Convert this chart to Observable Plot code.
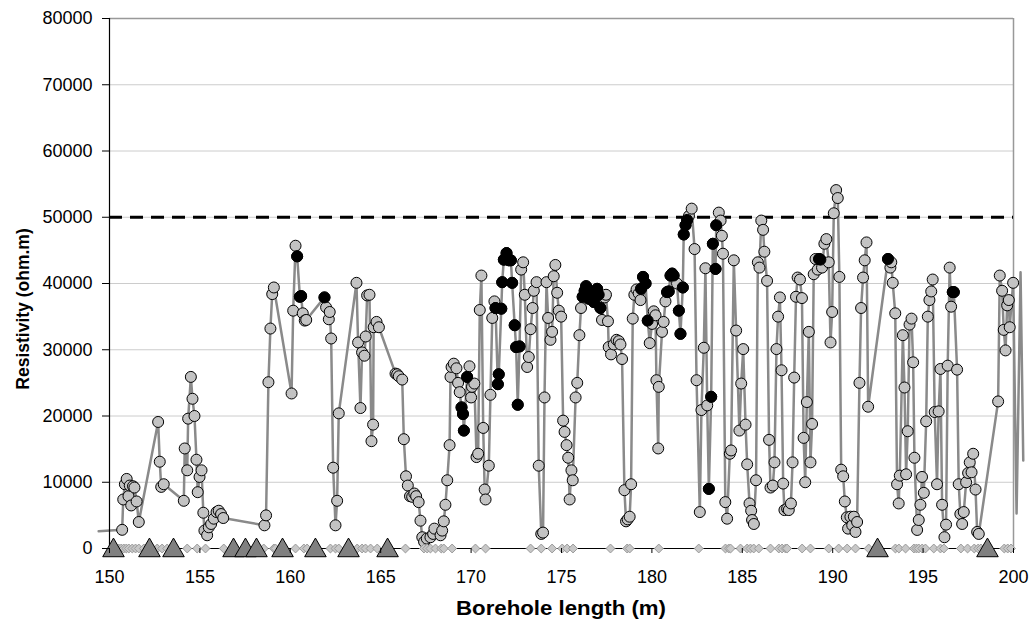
<!DOCTYPE html>
<html><head><meta charset="utf-8">
<script src="https://cdn.jsdelivr.net/npm/d3@7"></script>
<script src="https://cdn.jsdelivr.net/npm/@observablehq/plot@0.6"></script>
<style>body{margin:0;background:#fff;}</style>
</head><body><div id="chart"></div>
<script>
// Borehole length (m) and resistivity (ohm.m) of the measured profile
const depth = [149.40,150.70,150.76,150.85,150.95,151.05,151.12,151.20,151.30,151.38,151.50,151.62,152.69,152.78,152.86,153.00,154.11,154.16,154.30,154.35,154.50,154.59,154.70,154.81,154.88,154.98,155.09,155.19,155.25,155.40,155.49,155.62,155.77,155.92,156.04,156.17,156.29,158.57,158.66,158.79,158.90,159.00,159.09,160.07,160.16,160.29,160.38,160.53,160.60,160.69,160.80,160.88,161.89,161.98,162.13,162.18,162.26,162.37,162.50,162.59,162.68,163.66,163.75,163.88,163.97,164.10,164.17,164.25,164.38,164.49,164.58,164.61,164.77,164.90,165.82,165.91,166.00,166.19,166.28,166.40,166.50,166.62,166.74,166.86,166.96,167.10,167.20,167.30,167.40,167.55,167.75,167.90,167.97,168.31,168.40,168.49,168.58,168.68,168.81,168.86,168.92,169.04,169.19,169.28,169.37,169.47,169.55,169.60,169.78,169.91,170.00,170.05,170.18,170.30,170.39,170.48,170.57,170.67,170.75,170.80,170.98,171.07,171.17,171.29,171.35,171.48,171.53,171.67,171.72,171.81,171.96,172.09,172.20,172.27,172.41,172.49,172.58,172.68,172.77,172.88,172.97,173.10,173.19,173.29,173.40,173.47,173.62,173.74,173.88,173.98,174.06,174.17,174.26,174.39,174.48,174.57,174.66,174.76,174.85,174.98,175.09,175.17,175.28,175.37,175.45,175.55,175.62,175.78,175.87,175.99,176.08,176.17,176.28,176.36,176.51,176.60,176.70,176.79,176.88,176.97,177.06,177.15,177.24,177.39,177.46,177.57,177.61,177.74,177.89,178.04,178.17,178.26,178.35,178.48,178.57,178.66,178.77,178.85,178.94,179.03,179.15,179.27,179.37,179.40,179.51,179.65,179.77,179.88,180.01,180.10,180.20,180.25,180.35,180.38,180.56,180.65,180.75,180.84,180.93,181.03,181.12,181.20,181.39,181.49,181.58,181.71,181.76,181.86,181.95,182.05,182.20,182.36,182.47,182.65,182.74,182.87,182.96,183.06,183.15,183.28,183.37,183.52,183.56,183.70,183.80,183.87,183.93,184.06,184.16,184.31,184.38,184.53,184.66,184.84,184.94,185.05,185.18,185.27,185.40,185.49,185.54,185.64,185.76,185.86,185.95,186.05,186.15,186.22,186.37,186.48,186.56,186.69,186.78,186.89,186.98,187.08,187.17,187.26,187.33,187.48,187.57,187.69,187.78,187.87,187.97,188.06,188.19,188.30,188.39,188.48,188.57,188.68,188.77,188.86,188.95,189.05,189.17,189.25,189.32,189.41,189.54,189.65,189.78,189.88,189.97,190.06,190.19,190.28,190.37,190.47,190.58,190.67,190.78,190.85,190.98,191.08,191.17,191.26,191.35,191.48,191.57,191.68,191.77,191.87,191.96,193.06,193.19,193.24,193.32,193.46,193.56,193.65,193.71,193.88,193.97,194.06,194.15,194.25,194.36,194.45,194.52,194.67,194.76,194.85,194.94,195.04,195.17,195.26,195.35,195.45,195.53,195.64,195.77,195.86,195.96,196.05,196.18,196.27,196.36,196.47,196.55,196.64,196.70,196.88,196.97,197.06,197.16,197.25,197.38,197.49,197.58,197.68,197.77,197.90,197.99,198.08,199.15,199.24,199.37,199.46,199.56,199.65,199.74,199.79,199.98,200.17,200.39,200.54];
const resistivity = [2600,2820,7400,9700,10500,7900,9500,6500,9400,9200,7100,4000,19100,13100,9300,9700,7200,15100,11800,19600,25900,22600,20000,13400,8500,10800,11800,5400,2700,2000,3200,3700,4500,5500,5700,5200,4600,3500,5000,25100,33200,38400,39400,23400,35900,45700,44100,38000,38100,35500,34400,34500,37900,36400,34600,35700,31700,12200,3500,7200,20400,40100,31100,21200,29600,29100,32000,38200,38300,16200,18700,33400,34200,33400,26400,26300,26000,25500,16500,10900,9500,7900,7800,8300,7900,7000,4200,1700,1000,1500,1700,2200,3000,2000,2700,4100,6600,10300,15600,25900,27400,27900,27200,25000,23600,21300,20300,17800,25900,27500,22800,24400,24900,13800,14300,36000,41200,18200,8900,7400,12500,23200,34800,37300,36300,24800,26300,36200,40200,43600,44600,43500,43500,40100,33700,30400,21700,30500,42100,43200,38300,27400,28900,33100,36300,38900,40200,12500,2200,2400,22800,40200,34800,31500,32700,41100,42800,38600,35900,35000,19300,17600,15600,13700,7400,11800,10300,22800,25000,32200,36300,38000,38900,39600,37700,38300,37500,37200,38800,39200,38300,36300,34500,37900,38300,34300,30400,29300,30800,31500,31300,30800,28600,8800,4100,4400,4800,9700,34700,38300,39100,38500,37500,39200,41000,40000,34400,31000,33900,35800,35200,25400,15100,24400,32700,34200,37300,38700,38800,41200,41500,41200,40000,35900,32400,39400,47400,48800,49600,50200,51300,45200,25400,5500,20900,30300,42300,21600,9000,22900,46000,42200,48800,50700,49500,47200,44500,7000,4500,14300,14800,43500,32900,17800,24900,30100,18700,12700,6800,5700,4300,3700,10300,43200,42400,49500,48100,44800,40400,16400,9200,9500,13000,30100,35000,37900,26900,9800,5800,6000,5800,6800,13000,25800,38000,40900,40600,37800,16700,10000,22100,32700,13000,18800,41400,43700,42100,43700,43600,42400,46000,46700,43200,31100,35700,50600,54100,52900,41000,11900,10900,7100,4700,3000,4800,3500,4800,2500,4000,25000,36300,40900,43500,46200,21400,43700,42400,43200,40100,35500,9700,6800,11000,32200,24300,11200,17700,33800,34700,28100,13700,2800,4300,6600,10800,8400,19200,35000,37500,38800,40600,20600,9700,20700,27100,6600,1700,3600,27600,42400,36500,38700,38700,27000,9700,5200,3700,5500,10000,11400,13000,11500,14300,8900,2500,2200,22200,41200,38900,33000,29900,36700,37500,33400,40100,5300,41700,13300];
// Points drawn as black markers
const blackDepth = [160.38,160.53,160.60,161.89,169.47,169.55,169.60,169.78,171.35,171.48,171.53,171.67,171.72,171.81,171.96,172.09,172.20,172.27,172.41,172.49,172.58,172.68,176.17,176.28,176.36,176.51,176.60,176.79,176.88,176.97,177.06,177.15,179.40,179.51,179.65,179.77,180.84,180.93,181.03,181.12,181.20,181.49,181.58,181.71,181.76,181.86,181.95,183.15,183.28,183.37,183.52,183.56,189.25,189.32,193.06,196.64,196.70];
const blackRes = [44100,38000,38100,37900,21300,20300,17800,25900,36300,24800,26300,36200,40200,43600,44600,43500,43500,40100,33700,30400,21700,30500,38000,38900,39600,37700,38300,37200,38800,39200,38300,36300,39200,41000,40000,34400,38700,38800,41200,41500,41200,35900,32400,39400,47400,48800,49600,9000,22900,46000,42200,48800,43700,43600,43700,38700,38700];
// Markers on the axis
const diamondDepth = [150.30,150.51,150.65,150.79,150.93,151.07,151.26,151.44,151.62,151.90,152.64,152.91,153.19,154.30,154.85,155.31,156.32,158.53,159.09,159.18,160.29,160.75,160.93,162.22,162.50,162.68,163.70,163.97,164.16,164.44,164.81,166.37,167.39,167.57,167.75,168.03,168.35,168.49,168.95,170.24,170.80,173.29,173.88,174.48,175.04,175.31,175.64,177.71,178.63,178.77,180.38,182.59,184.07,184.25,184.35,184.90,185.27,185.45,185.63,185.91,186.56,187.02,187.20,187.39,187.48,188.31,188.77,189.78,190.33,190.80,191.26,191.99,193.47,193.66,194.03,194.49,194.63,194.76,194.95,195.13,195.59,195.96,196.15,197.09,197.46,197.83,198.05,198.20,198.38,199.49,199.68,199.86];
const triangleDepth = [150.22,152.21,153.54,156.86,157.52,158.13,159.57,161.39,163.22,165.38,192.48,198.56];
const yTicks = [0,10000,20000,30000,40000,50000,60000,70000,80000];
const xTicks = [150,155,160,165,170,175,180,185,190,195,200];
const threshold = [50000];

const series = depth.map((d, i) => ({x: d, y: resistivity[i]}));
const shown = series.filter(d => d.x >= 150 && d.x <= 200);
const black = blackDepth.map((d, i) => ({x: d, y: blackRes[i]}));
const diamonds = diamondDepth.map(d => ({x: d, y: 0}));
const triangles = triangleDepth.map(d => ({x: d, y: 0}));

const FONT = "'Liberation Sans', Arial, sans-serif";
const chart = Plot.plot({
  width: 1033, height: 628,
  marginLeft: 109, marginRight: 20, marginTop: 18, marginBottom: 80,
  style: {fontFamily: FONT, fontSize: "18px", background: "#fff", color: "#000"},
  x: {domain: [150, 200], label: null},
  y: {domain: [0, 80000], label: null},
  marks: [
    Plot.ruleY(yTicks.filter(t => t > 0 && t < 80000), {stroke: "#cccccc", strokeWidth: 1}),
    Plot.ruleY([80000], {stroke: "#999", strokeWidth: 1.5}),
    Plot.ruleX([200], {stroke: "#999", strokeWidth: 1.5}),
    Plot.ruleY(threshold, {stroke: "#000", strokeWidth: 3, strokeDasharray: "13,8"}),
    Plot.line(series, {x: "x", y: "y", stroke: "#8a8a8a", strokeWidth: 2.5}),
    Plot.dot(shown, {x: "x", y: "y", r: 5.5, fill: "#c3c3c3", stroke: "#000", strokeWidth: 1}),
    Plot.dot(black, {x: "x", y: "y", r: 5.5, fill: "#000", stroke: "#000", strokeWidth: 1}),
    Plot.ruleX([150], {stroke: "#000", strokeWidth: 1.2}),
    Plot.ruleY([0], {stroke: "#000", strokeWidth: 1.2}),
    Plot.dot(diamonds, {x: "x", y: "y", symbol: "diamond2", r: 4, fill: "#c8c8c8", stroke: "#9a9a9a", strokeWidth: 1}),
    Plot.dot(triangles, {x: "x", y: "y", symbol: "triangle", r: 8, dy: 2, fill: "#808080", stroke: "#000", strokeWidth: 1}),
    Plot.axisY({ticks: yTicks, tickFormat: d => String(d), tickSize: 7, tickPadding: 10, label: null, fontSize: 18}),
    Plot.axisX({ticks: xTicks, tickFormat: d => String(d), tickSize: 5, tickPadding: 17, label: null, fontSize: 18})
  ]
});
document.getElementById("chart").appendChild(chart);
const svg = d3.select(chart);
svg.append("text")
  .attr("transform", "translate(29,309) rotate(-90)")
  .attr("text-anchor", "middle")
  .attr("font-family", FONT).attr("font-weight", "bold").attr("font-size", 17.5)
  .attr("fill", "#000")
  .text("Resistivity (ohm.m)");
svg.append("text")
  .attr("x", 561).attr("y", 615)
  .attr("text-anchor", "middle")
  .attr("font-family", FONT).attr("font-weight", "bold").attr("font-size", 20)
  .attr("textLength", 210).attr("lengthAdjust", "spacingAndGlyphs")
  .attr("fill", "#000")
  .text("Borehole length (m)");
</script>
</body></html>
